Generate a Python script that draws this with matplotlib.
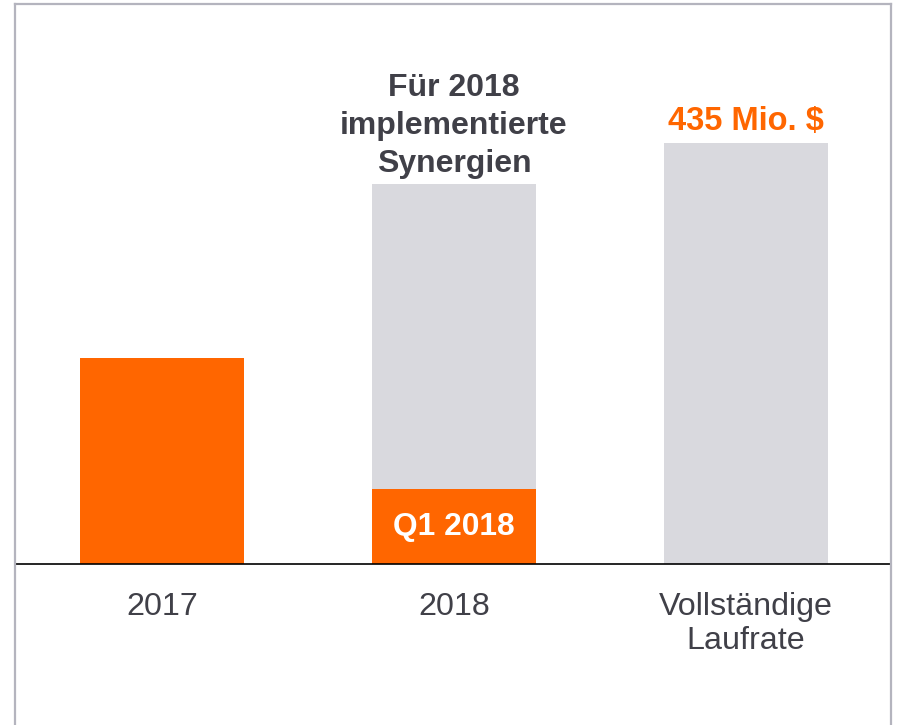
import matplotlib
matplotlib.use("Agg")
import matplotlib.pyplot as plt
from matplotlib.lines import Line2D

plt.rcParams['font.family'] = ['Liberation Sans', 'DejaVu Sans']

categories = ["2017", "2018", "Vollständige\nLaufrate"]
orange_values = [213, 77, 0]
gray_values = [0, 393, 435]
top_labels = ["", "Für 2018\nimplementierte\nSynergien", "435 Mio. $"]
inner_label = "Q1 2018"

ORANGE = "#FF6600"
GRAY = "#D9D9DE"
TEXT = "#404048"

W, H = 897, 725
fig = plt.figure(figsize=(W / 100, H / 100), dpi=100)
base_px = 564
ax = fig.add_axes([15 / W, (H - base_px) / H, (890 - 15) / W, (base_px - 4) / H])

x = list(range(len(categories)))
ax.bar(x, gray_values, width=0.56, color=GRAY, zorder=1)
ax.bar(x, orange_values, width=0.56, color=ORANGE, zorder=2)

ax.set_xlim(-0.503, 2.493)
units_per_px = 435 / 421
ax.set_ylim(0, (base_px - 4) * units_per_px)

for s in ["top", "left", "right"]:
    ax.spines[s].set_visible(False)
ax.spines["bottom"].set_color("black")
ax.spines["bottom"].set_linewidth(1.2)
ax.set_yticks([])
ax.set_xticks(x)
ax.set_xticklabels(categories, fontsize=23.2, color=TEXT, linespacing=1.18)
ax.tick_params(axis="x", length=0, pad=20)

# annotations above bars
ax.annotate(top_labels[1], xy=(1, gray_values[1]), xytext=(0, 3), textcoords="offset points",
            ha="center", va="bottom", fontsize=23, fontweight="bold", color=TEXT, linespacing=1.36)
ax.annotate(top_labels[2], xy=(2, gray_values[2]), xytext=(0, 9.5), textcoords="offset points",
            ha="center", va="baseline", fontsize=23.5, fontweight="bold", color=ORANGE)
ax.text(1, orange_values[1] / 2, inner_label, ha="center", va="center", fontsize=22.9,
        fontweight="bold", color="white", zorder=3)

# frame
fc = "#B4B4BE"
fig.add_artist(Line2D([14.5 / W, 14.5 / W], [0, 1 - 4 / H], color=fc, lw=1.6))
fig.add_artist(Line2D([14.5 / W, 891 / W], [1 - 4 / H, 1 - 4 / H], color=fc, lw=1.6))
fig.add_artist(Line2D([891 / W, 891 / W], [0, 1 - 4 / H], color=fc, lw=1.6))

fig.savefig("out.png", dpi=100, facecolor="white")
